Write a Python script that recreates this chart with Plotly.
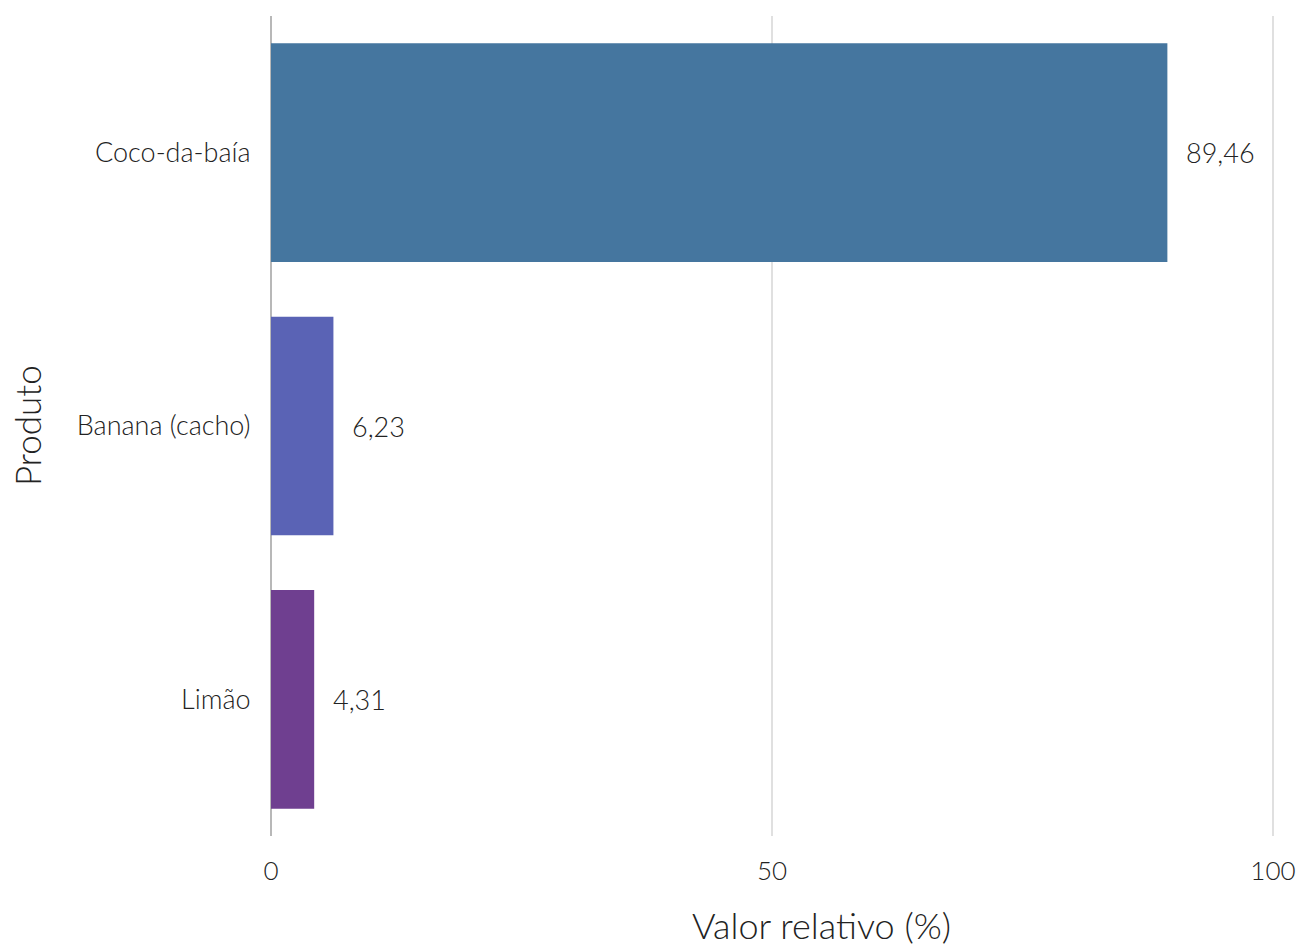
import plotly.graph_objects as go

produtos = ["Coco-da-baía", "Banana (cacho)", "Limão"]
valores = [89.46, 6.23, 4.31]
cores = ["#45769F", "#5A63B5", "#6F3F90"]
rotulos = ["89,46", "6,23", "4,31"]

FONT = "Lato"
TXT = "#222222"

fig = go.Figure()
fig.add_trace(go.Bar(
    y=produtos, x=valores, orientation="h",
    marker=dict(color=cores, line=dict(width=0)),
    width=0.8, showlegend=False, hoverinfo="x+y",
))

for p, v, t in zip(produtos, valores, rotulos):
    fig.add_annotation(x=v, y=p, text=t, showarrow=False, xanchor="left",
                       xshift=17, font=dict(family=FONT, size=27, color=TXT, weight=300))

# axis titles (placed as annotations to match the reference positions)
fig.add_annotation(xref="paper", yref="paper", x=0, y=0, xshift=550, yshift=-89,
                   xanchor="center", yanchor="middle", showarrow=False,
                   text="Valor relativo (%)",
                   font=dict(family=FONT, size=36, color=TXT, weight=300))
fig.add_annotation(xref="paper", yref="paper", x=0, y=0.5, xshift=-244,
                   xanchor="center", yanchor="middle", showarrow=False,
                   text="Produto", textangle=-90,
                   font=dict(family=FONT, size=35, color=TXT, weight=300))

fig.update_layout(
    width=1301, height=946,
    margin=dict(l=271, r=25, t=16, b=110, autoexpand=False),
    plot_bgcolor="white", paper_bgcolor="white",
    separators=",.",
    font=dict(family=FONT, size=27, color=TXT, weight=300),
    xaxis=dict(
        range=[0, 100.3], tickvals=[0, 50, 100],
        automargin=False, ticklabeloverflow="allow",
        showgrid=True, gridcolor="#e0e0e0", gridwidth=1.5,
        zeroline=True, zerolinecolor="#b8b8b8", zerolinewidth=2,
        ticks="outside", ticklen=12, tickcolor="white",
        tickfont=dict(family=FONT, size=26, color=TXT, weight=300),
        showline=False,
    ),
    yaxis=dict(
        categoryorder="array", categoryarray=produtos[::-1],
        range=[-0.5, 2.5], automargin=False,
        ticks="outside", ticklen=14, tickcolor="white",
        tickfont=dict(family=FONT, size=27, color=TXT, weight=300),
        showgrid=False, showline=False, zeroline=False,
    ),
)

fig.write_html("out.html", config={"displayModeBar": False},
               post_script="document.body.style.margin='0';")
